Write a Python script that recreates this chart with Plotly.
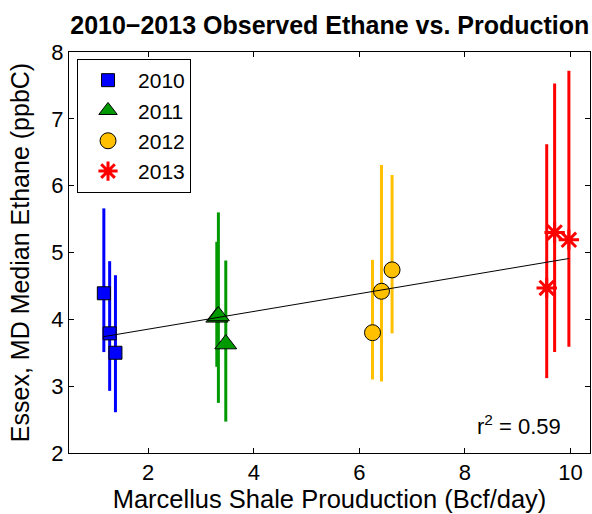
import plotly.graph_objects as go

years = ["2010", "2011", "2012", "2013"]
prod_x = {
    "2010": [1.16, 1.27, 1.38],
    "2011": [3.30, 3.33, 3.47],
    "2012": [6.25, 6.42, 6.62],
    "2013": [9.55, 9.70, 9.97],
}
ethane_y = {
    "2010": [4.39, 3.79, 3.50],
    "2011": [4.03, 4.05, 3.63],
    "2012": [3.80, 4.42, 4.74],
    "2013": [4.47, 5.30, 5.19],
}
bar_low = {
    "2010": [3.51, 2.93, 2.61],
    "2011": [3.29, 2.75, 2.47],
    "2012": [3.10, 3.07, 3.79],
    "2013": [3.12, 3.51, 3.59],
}
bar_high = {
    "2010": [5.66, 4.87, 4.66],
    "2011": [5.16, 5.60, 4.88],
    "2012": [4.89, 6.31, 6.16],
    "2013": [6.62, 7.53, 7.72],
}
fit_x = [1.15, 9.97]
fit_y = [3.74, 4.91]
r2_text = "r<sup>2</sup> = 0.59"

colors = {"2010": "#0000FF", "2011": "#009900", "2012": "#FFC000", "2013": "#FF0000"}
symbols = {"2010": "square", "2011": "triangle-up", "2012": "circle", "2013": "asterisk-open"}
sizes = {"2010": 13, "2011": 19, "2012": 16, "2013": 17}

FONT = "Liberation Sans, Arial, Helvetica, sans-serif"

fig = go.Figure()

for yr in years:
    ys = ethane_y[yr]
    plus = [h - v for h, v in zip(bar_high[yr], ys)]
    minus = [v - l for v, l in zip(ys, bar_low[yr])]
    if yr == "2013":
        marker = dict(symbol=symbols[yr], size=sizes[yr], color=colors[yr],
                      line=dict(color=colors[yr], width=3))
    else:
        marker = dict(symbol=symbols[yr], size=sizes[yr], color=colors[yr],
                      line=dict(color="black", width=1))
    fig.add_trace(go.Scatter(
        x=prod_x[yr], y=ys, mode="markers", name=yr, marker=marker,
        error_y=dict(type="data", symmetric=False, array=plus, arrayminus=minus,
                     color=colors[yr], thickness=3, width=0),
    ))

fig.add_trace(go.Scatter(x=fit_x, y=fit_y, mode="lines",
                         line=dict(color="black", width=1), showlegend=False,
                         hoverinfo="skip"))

fig.add_annotation(x=0.948, y=0.07, xref="paper", yref="paper", text=r2_text,
                   showarrow=False, xanchor="right", yanchor="middle",
                   font=dict(size=22, color="black", family=FONT))

axis_common = dict(showline=True, linecolor="black", linewidth=1, mirror="ticks",
                   ticks="inside", ticklen=5, tickcolor="black", showgrid=False,
                   zeroline=False, automargin=False,
                   tickfont=dict(size=22, family=FONT, color="black"))

fig.update_layout(
    width=592, height=514,
    margin=dict(l=69, r=2, t=52, b=61),
    plot_bgcolor="white", paper_bgcolor="white",
    font=dict(family=FONT, color="black"),
    title=dict(text="<b>2010\u22122013 Observed Ethane vs. Production</b>",
               x=0.557, xanchor="center", y=0.951, yanchor="middle",
               font=dict(size=25, family=FONT, color="black")),
    xaxis=dict(range=[0.5, 10.37], tickvals=[2, 4, 6, 8, 10],
               title=dict(text="Marcellus Shale Prouduction (Bcf/day)", standoff=0,
                          font=dict(size=25.5, family=FONT, color="black")),
               **axis_common),
    yaxis=dict(range=[2, 8], tickvals=[2, 3, 4, 5, 6, 7, 8],
               title=dict(text="Essex, MD Median Ethane (ppbC)", standoff=14,
                          font=dict(size=25, family=FONT, color="black")),
               **axis_common),
    legend=dict(x=0.0154, y=0.9825, xanchor="left", yanchor="top",
                bordercolor="black", borderwidth=1, bgcolor="white",
                font=dict(size=21, family=FONT, color="black"),
                tracegroupgap=0, itemwidth=50),
    showlegend=True,
)

fig.write_html("out.html", config={"displayModeBar": False},
               post_script="document.body.style.margin='0px';document.body.style.padding='0px';")
